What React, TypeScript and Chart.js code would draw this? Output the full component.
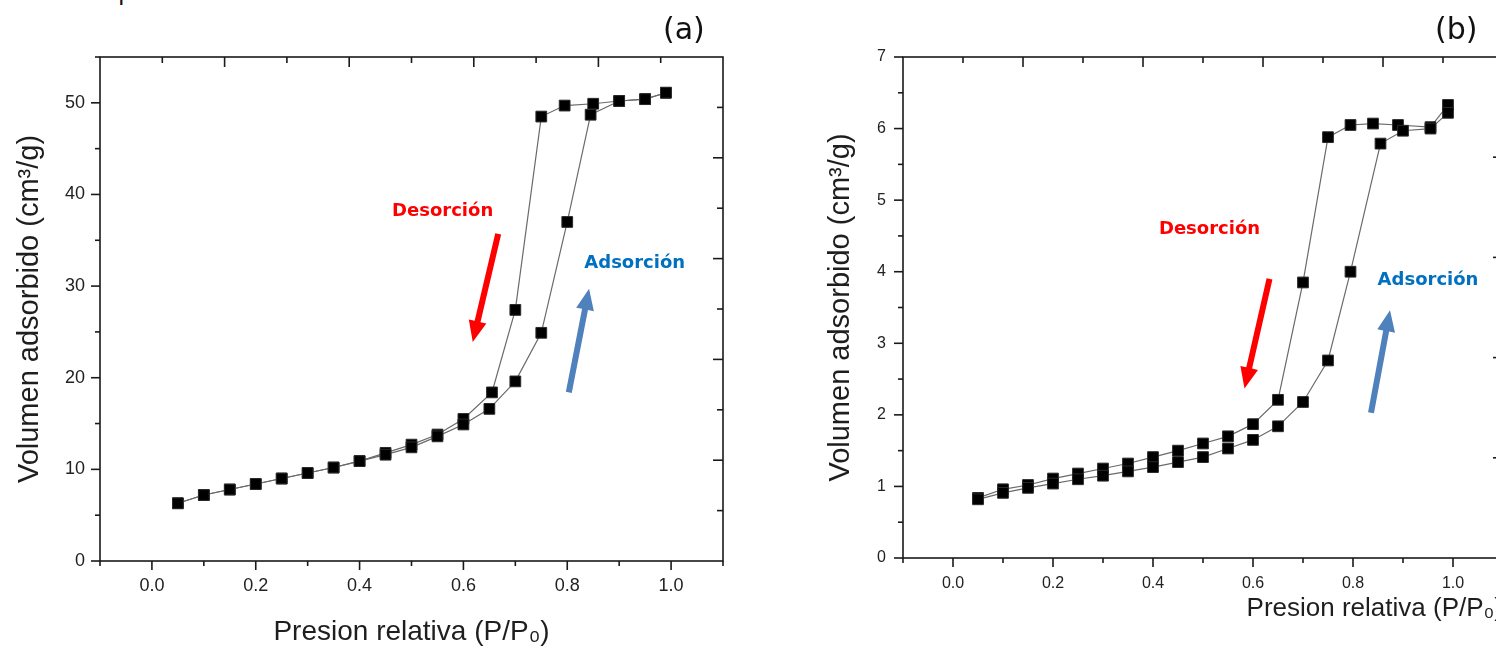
import React, { useEffect, useRef } from 'react';
import { Chart, registerables } from 'chart.js';

Chart.register(...registerables);

// ---------- data ----------
// Panel (a)
const pressureAdsA = [0.05, 0.10, 0.15, 0.20, 0.25, 0.30, 0.35, 0.40, 0.45, 0.50, 0.55, 0.60, 0.65, 0.70, 0.75, 0.80, 0.845, 0.90, 0.95, 0.99];
const volumeAdsA = [6.3, 7.2, 7.8, 8.4, 9.0, 9.6, 10.2, 10.9, 11.6, 12.4, 13.6, 14.9, 16.6, 19.6, 24.9, 37.0, 48.7, 50.2, 50.4, 51.1];
const pressureDesA = [0.99, 0.95, 0.90, 0.85, 0.795, 0.75, 0.70, 0.655, 0.60, 0.55, 0.50, 0.45, 0.40, 0.35, 0.30, 0.25, 0.20, 0.15, 0.10, 0.05];
const volumeDesA = [51.1, 50.4, 50.2, 49.9, 49.7, 48.5, 27.4, 18.4, 15.5, 13.8, 12.7, 11.8, 10.9, 10.2, 9.6, 9.0, 8.4, 7.8, 7.2, 6.3];

// Panel (b)
const pressureAdsB = [0.05, 0.10, 0.15, 0.20, 0.25, 0.30, 0.35, 0.40, 0.45, 0.50, 0.55, 0.60, 0.65, 0.70, 0.75, 0.795, 0.855, 0.90, 0.955, 0.99];
const volumeAdsB = [0.82, 0.91, 0.98, 1.04, 1.10, 1.15, 1.21, 1.27, 1.34, 1.41, 1.53, 1.65, 1.84, 2.18, 2.76, 4.00, 5.79, 5.97, 6.00, 6.22];
const pressureDesB = [0.99, 0.955, 0.89, 0.84, 0.795, 0.75, 0.70, 0.65, 0.60, 0.55, 0.50, 0.45, 0.40, 0.35, 0.30, 0.25, 0.20, 0.15, 0.10, 0.05];
const volumeDesB = [6.33, 6.02, 6.05, 6.07, 6.05, 5.88, 3.85, 2.21, 1.87, 1.70, 1.60, 1.50, 1.41, 1.32, 1.25, 1.18, 1.11, 1.02, 0.96, 0.84];

// Tick labels
const xTickLabels = ['0.0', '0.2', '0.4', '0.6', '0.8', '1.0'];
const yTickLabelsA = ['0', '10', '20', '30', '40', '50'];
const yTickLabelsB = ['0', '1', '2', '3', '4', '5', '6', '7'];

// Texts
const yTitle = 'Volumen adsorbido (cm³/g)';
const xTitle = 'Presion relativa (P/P₀)';
const desLabel = 'Desorción';
const adsLabel = 'Adsorción';

// ---------- helpers ----------
const toPoints = (xs: number[], ys: number[]) => xs.map((x, i) => ({ x, y: ys[i] }));

const SANS = '"Liberation Sans", Arial, sans-serif';
const BOLD = '"DejaVu Sans", Verdana, sans-serif';

function drawArrow(ctx: CanvasRenderingContext2D, x1: number, y1: number, x2: number, y2: number, color: string, shaft: number, headW: number, headL: number) {
  const ang = Math.atan2(y2 - y1, x2 - x1);
  const len = Math.hypot(x2 - x1, y2 - y1);
  ctx.save();
  ctx.translate(x1, y1);
  ctx.rotate(ang);
  ctx.fillStyle = color;
  ctx.beginPath();
  ctx.moveTo(0, -shaft / 2);
  ctx.lineTo(len - headL, -shaft / 2);
  ctx.lineTo(len - headL, -headW / 2);
  ctx.lineTo(len, 0);
  ctx.lineTo(len - headL, headW / 2);
  ctx.lineTo(len - headL, shaft / 2);
  ctx.lineTo(0, shaft / 2);
  ctx.closePath();
  ctx.fill();
  ctx.restore();
}

const frameTicksPlugin = {
  id: 'frameTicks',
  afterDatasetsDraw(chart: any, _args: any, opts: any) {
    const { ctx, chartArea: a, scales } = chart;
    const sx = scales.x, sy = scales.y, sx2 = scales.x2, sy2 = scales.y2;
    ctx.save();
    ctx.strokeStyle = '#1a1a1a';
    ctx.lineWidth = 1.6;
    ctx.lineCap = 'butt';
    ctx.strokeRect(a.left, a.top, a.right - a.left, a.bottom - a.top);
    const seg = (x1: number, y1: number, x2: number, y2: number) => {
      ctx.beginPath();
      ctx.moveTo(x1, y1);
      ctx.lineTo(x2, y2);
      ctx.stroke();
    };
    const major = opts.major, minor = opts.minor;
    sx.ticks.forEach((t: any) => {
      const p = sx.getPixelForValue(t.value);
      seg(p, a.bottom, p, a.bottom + (t.label ? major : minor));
    });
    sy.ticks.forEach((t: any) => {
      const p = sy.getPixelForValue(t.value);
      seg(a.left - (t.label ? major : minor), p, a.left, p);
    });
    sx2.ticks.forEach((t: any) => {
      if (t.value <= sx2.min || t.value >= sx2.max) return;
      const p = sx2.getPixelForValue(t.value);
      seg(p, a.top, p, a.top + (t.value % 2 === 0 ? opts.mirrorMajor : opts.mirrorMinor));
    });
    sy2.ticks.forEach((t: any) => {
      if (t.value <= sy2.min || t.value >= sy2.max) return;
      const p = sy2.getPixelForValue(t.value);
      seg(a.right - (t.value % 2 === 0 ? opts.mirrorMajor : opts.mirrorMinor), p, a.right, p);
    });

    // annotations (data coordinates through the scales)
    (opts.arrows || []).forEach((ar: any) => {
      drawArrow(
        ctx,
        sx.getPixelForValue(ar.from[0]), sy.getPixelForValue(ar.from[1]),
        sx.getPixelForValue(ar.to[0]), sy.getPixelForValue(ar.to[1]),
        ar.color, 6, 18, 21
      );
    });
    (opts.texts || []).forEach((tx: any) => {
      ctx.fillStyle = tx.color;
      ctx.font = `bold 18px ${BOLD}`;
      ctx.textAlign = 'center';
      ctx.textBaseline = 'middle';
      ctx.fillText(tx.text, sx.getPixelForValue(tx.at[0]), sy.getPixelForValue(tx.at[1]));
    });
    ctx.restore();
  },
};

type PanelSpec = {
  ads: { x: number; y: number }[];
  des: { x: number; y: number }[];
  yMax: number;
  yStep: number;
  yLabels: string[];
  tickFont: number;
  yPad: number;
  xPad: number;
  yAxisWidth: number;
  xAxisHeight: number;
  padTop: number;
  padRight: number;
  yTitlePad: number;
  yTitleSize: number;
  xTitleSize: number;
  xTitlePad: number;
  xTitleAlign: 'center' | 'end';
  texts: any[];
  arrows: any[];
};

const panelA: PanelSpec = {
  ads: toPoints(pressureAdsA, volumeAdsA),
  des: toPoints(pressureDesA, volumeDesA),
  yMax: 55,
  yStep: 5,
  yLabels: yTickLabelsA,
  tickFont: 18,
  yPad: 15,
  xPad: 14,
  yAxisWidth: 100,
  xAxisHeight: 89,
  padTop: 57,
  padRight: 17,
  yTitlePad: 13,
  yTitleSize: 29,
  xTitleSize: 28,
  xTitlePad: 1,
  xTitleAlign: 'center',
  texts: [
    { text: desLabel, at: [0.56, 38.2], color: '#ff0000' },
    { text: adsLabel, at: [0.93, 32.5], color: '#0070c0' },
  ],
  arrows: [
    { from: [0.667, 35.7], to: [0.618, 23.9], color: '#ff0000' },
    { from: [0.803, 18.4], to: [0.842, 29.7], color: '#4f81bd' },
  ],
};

const panelB: PanelSpec = {
  ads: toPoints(pressureAdsB, volumeAdsB),
  des: toPoints(pressureDesB, volumeDesB),
  yMax: 7,
  yStep: 0.5,
  yLabels: yTickLabelsB,
  tickFont: 16,
  yPad: 17,
  xPad: 16,
  yAxisWidth: 143,
  xAxisHeight: 92,
  padTop: 57,
  padRight: 17,
  yTitlePad: 64,
  yTitleSize: 29,
  xTitleSize: 26,
  xTitlePad: 26,
  xTitleAlign: 'end',
  texts: [
    { text: desLabel, at: [0.513, 4.59], color: '#ff0000' },
    { text: adsLabel, at: [0.95, 3.88], color: '#0070c0' },
  ],
  arrows: [
    { from: [0.633, 3.9], to: [0.583, 2.37], color: '#ff0000' },
    { from: [0.836, 2.03], to: [0.874, 3.46], color: '#4f81bd' },
  ],
};

function seriesStyle(label: string, data: { x: number; y: number }[]) {
  return {
    label,
    data,
    showLine: true,
    borderColor: '#6a6a6a',
    borderWidth: 1.2,
    pointStyle: 'rect',
    pointRadius: 7.6,
    pointHoverRadius: 7.6,
    pointBackgroundColor: '#000000',
    pointBorderColor: '#2a2a2a',
    pointBorderWidth: 1,
    tension: 0,
  };
}

function IsothermChart({ spec, left, width }: { spec: PanelSpec; left: number; width: number }) {
  const ref = useRef<HTMLCanvasElement>(null);
  useEffect(() => {
    if (!ref.current) return;
    const hidden = {
      display: true,
      grid: { display: false, drawTicks: false },
      border: { display: false },
      ticks: { display: false },
    };
    const chart = new Chart(ref.current, {
      type: 'scatter',
      data: {
        datasets: [seriesStyle(adsLabel, spec.ads), seriesStyle(desLabel, spec.des)] as any,
      },
      plugins: [frameTicksPlugin as any],
      options: {
        responsive: false,
        animation: false,
        devicePixelRatio: 1,
        layout: { padding: { top: spec.padTop, right: spec.padRight, left: 0, bottom: 0 } },
        plugins: {
          legend: { display: false },
          tooltip: { enabled: false },
          frameTicks: {
            major: 9,
            minor: 5,
            mirrorMajor: 10,
            mirrorMinor: 6,
            texts: spec.texts,
            arrows: spec.arrows,
          },
        } as any,
        scales: {
          x: {
            type: 'linear',
            position: 'bottom',
            min: -0.1,
            max: 1.1,
            grid: { display: false, drawTicks: false },
            border: { display: false },
            ticks: {
              stepSize: 0.1,
              autoSkip: false,
              maxRotation: 0,
              padding: spec.xPad,
              color: '#222',
              font: { family: SANS, size: spec.tickFont },
              callback: (v: any) => {
                const s = Number(v).toFixed(1);
                return xTickLabels.includes(s) ? s : '';
              },
            },
            title: {
              display: true,
              text: xTitle,
              align: spec.xTitleAlign,
              color: '#1e1e1e',
              font: { family: SANS, size: spec.xTitleSize },
              padding: { top: 0, bottom: spec.xTitlePad },
            },
            afterFit: (s: any) => {
              s.height = spec.xAxisHeight;
            },
          },
          y: {
            type: 'linear',
            position: 'left',
            min: 0,
            max: spec.yMax,
            grid: { display: false, drawTicks: false },
            border: { display: false },
            ticks: {
              stepSize: spec.yStep,
              autoSkip: false,
              padding: spec.yPad,
              color: '#222',
              font: { family: SANS, size: spec.tickFont },
              callback: (v: any) => {
                const s = String(Number(v));
                return spec.yLabels.includes(s) ? s : '';
              },
            },
            title: {
              display: true,
              text: yTitle,
              color: '#1e1e1e',
              font: { family: SANS, size: spec.yTitleSize },
              padding: { top: spec.yTitlePad, bottom: 0 },
            },
            afterFit: (s: any) => {
              s.width = spec.yAxisWidth;
            },
          },
          x2: {
            ...hidden,
            type: 'linear',
            position: 'top',
            min: 0,
            max: 10,
            ticks: { display: false, stepSize: 1, autoSkip: false },
            afterFit: (s: any) => {
              s.height = 0;
            },
          },
          y2: {
            ...hidden,
            type: 'linear',
            position: 'right',
            min: 0,
            max: 10,
            ticks: { display: false, stepSize: 1, autoSkip: false },
            afterFit: (s: any) => {
              s.width = 0;
            },
          },
        } as any,
      },
    });
    return () => chart.destroy();
  }, [spec]);
  return (
    <canvas
      ref={ref}
      width={width}
      height={650}
      style={{ position: 'absolute', left, top: 0, width, height: 650 }}
    />
  );
}

export default function App() {
  const label: React.CSSProperties = {
    position: 'absolute',
    top: 14,
    font: '30px "DejaVu Sans", Verdana, sans-serif',
    lineHeight: '30px',
    color: '#111',
    whiteSpace: 'nowrap',
  };
  return (
    <div
      style={{
        position: 'fixed',
        left: 0,
        top: 0,
        width: 1496,
        height: 650,
        overflow: 'hidden',
        background: '#ffffff',
      }}
    >
      <div
        style={{
          position: 'absolute',
          left: 118,
          top: -20,
          font: '24px "DejaVu Sans", Verdana, sans-serif',
          lineHeight: '24px',
          color: '#111',
          whiteSpace: 'nowrap',
        }}
      >
        presión como de la
      </div>
      <IsothermChart spec={panelA} left={0} width={740} />
      <IsothermChart spec={panelB} left={760} width={760} />
      <div style={{ ...label, left: 663 }}>(a)</div>
      <div style={{ ...label, left: 1435 }}>(b)</div>
    </div>
  );
}
